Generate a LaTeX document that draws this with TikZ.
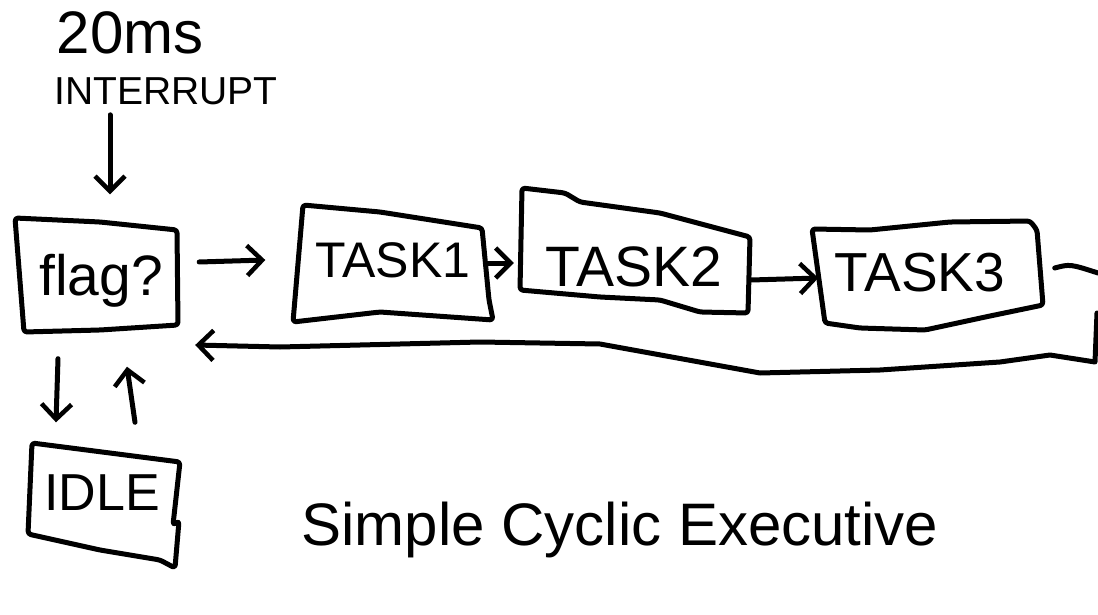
\documentclass[tikz,border=0pt]{standalone}
\usepackage{fontspec}
\setmainfont{Liberation Sans}
\usetikzlibrary{arrows.meta,calc}
\newcommand{\putbase}[2]{\raisebox{#1}[0pt][0pt]{#2}}
\begin{document}
\begin{tikzpicture}[x=1pt,y=-1pt,
  ink/.style={line width=5pt,line cap=round,line join=round,black},
  outline/.style={ink,rounded corners=3pt},
  hbox/.style={rectangle,inner sep=0pt},
  lbl/.style={inner sep=0pt,font=\fontsize{38}{40}\selectfont},
  arr/.style={ink,-{Straight Barb[length=15pt,width=30pt,line width=4.5pt]}},
  conn/.style={ink}]
\useasboundingbox (0,0) rectangle (1098,615);
\fill[white] (0,0) rectangle (1098,615);

% labels
\node[lbl,font=\fontsize{60}{62}\selectfont] (ms) at (130,33) {20ms};
\node[lbl,font=\fontsize{39}{41}\selectfont] (int) at (166,91) {INTERRUPT};

% boxes (anchor nodes with their texts)
\node[hbox,minimum width=160pt,minimum height=105pt,font=\fontsize{57}{59}\selectfont] (flag) at (97,274) {\putbase{-21pt}{\kern8pt flag?}};
\node[hbox,minimum width=195pt,minimum height=110pt,font=\fontsize{50}{52}\selectfont] (t1) at (393,265) {\putbase{-12pt}{TASK1}};
\node[hbox,minimum width=230pt,minimum height=110pt,font=\fontsize{57}{59}\selectfont] (t2) at (634,252) {\putbase{-34pt}{TASK2}};
\node[hbox,minimum width=225pt,minimum height=100pt,font=\fontsize{55}{57}\selectfont] (t3) at (928,275) {\putbase{-16pt}{\kern-16pt TASK3}};
\node[hbox,minimum width=152pt,minimum height=115pt,font=\fontsize{52}{54}\selectfont] (idle) at (104,505) {\putbase{-5pt}{\kern-4pt IDLE}};

% hand-drawn outlines
\draw[outline] (15,218) -- (100,222) -- (177,230) -- (178,325) -- (100,330) -- (24,332) -- cycle;
\draw[outline] (303,205) -- (380,212) -- (482,228) -- (489,300) -- (493,320) -- (380,312) -- (293,322) -- cycle;
\draw[outline] (522,188) -- (565,193) -- (580,202) -- (660,213) -- (750,237) -- (748,313)
  -- (700,312) -- (660,300) -- (600,297) -- (520,290) -- cycle;
\draw[outline] (812,229) -- (870,230) -- (950,222) -- (1030,221) -- (1037,230) -- (1043,305)
  -- (990,316) -- (925,330) -- (860,328) -- (825,323) -- cycle;
\draw[outline] (32,443) -- (180,462) -- (173,525) -- (179,521) -- (175,568) -- (160,560)
  -- (100,550) -- (28,534) -- cycle;

\node[lbl,font=\fontsize{60}{62}\selectfont] (title) at (620,545) {\putbase{0pt}{Simple Cyclic Executive}};

% connectors
\draw[arr] ([xshift=-56pt,yshift=-10pt]int.south) -- ([xshift=13pt,yshift=27pt]flag.north);
\draw[arr] ([shift={(22,-12)}]flag.east) -- ([shift={(-30,-5)}]t1.west);
\draw[arr] ([shift={(-3,-2)}]t1.east) -- ([shift={(-5,11)}]t2.west);
\draw[arr] ([shift={(2,28)}]t2.east) -- ([shift={(3,3)}]t3.west);

\coordinate (r1) at (1098,273);
\coordinate (r2) at (1097,313);
\draw[conn] ([shift={(14,-7)}]t3.east) .. controls (1070,264) .. (r1);
\draw[arr] (r2) -- (1095,362) -- (1050,355) -- (1000,362) -- (880,370) -- (760,373)
  -- (600,344) -- (480,342) -- (280,347) -- ([shift={(18,71)}]flag.east);

\draw[arr] ([shift={(-39,32)}]flag.south) -- ([shift={(-48,-25)}]idle.north);
\draw[arr] ([shift={(31,-25)}]idle.north) -- ([shift={(30,40)}]flag.south);
\end{tikzpicture}
\end{document}
